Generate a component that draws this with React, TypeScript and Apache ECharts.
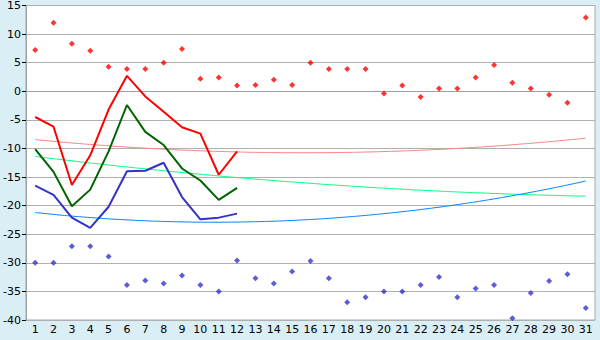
import React, { useEffect, useRef } from "react";
import * as echarts from "echarts";

const days = ["1","2","3","4","5","6","7","8","9","10","11","12","13","14","15","16","17","18","19","20","21","22","23","24","25","26","27","28","29","30","31"];

const maxPoints = [7.2, 12.0, 8.3, 7.1, 4.3, 3.9, 3.9, 5.0, 7.4, 2.2, 2.4, 1.0, 1.1, 2.0, 1.1, 5.0, 3.9, 3.9, 3.9, -0.4, 1.0, -1.0, 0.5, 0.5, 2.4, 4.6, 1.5, 0.5, -0.6, -2.0, 12.9];
const minPoints = [-30.0, -30.0, -27.1, -27.1, -28.9, -33.9, -33.1, -33.6, -32.2, -33.9, -35.0, -29.6, -32.7, -33.6, -31.5, -29.7, -32.7, -36.9, -36.0, -35.0, -35.0, -33.9, -32.5, -36.0, -34.5, -33.9, -39.7, -35.3, -33.2, -32.0, -37.9];

const redLine = [-4.5, -6.2, -16.4, -11.2, -3.2, 2.7, -0.9, -3.6, -6.3, -7.4, -14.6, -10.5];
const greenLine = [-10.1, -14.1, -20.1, -17.2, -10.5, -2.4, -7.1, -9.4, -13.5, -15.6, -19.0, -16.9];
const blueLine = [-16.5, -18.1, -22.1, -23.9, -20.2, -14.0, -13.9, -12.5, -18.5, -22.4, -22.1, -21.4];

const redTrend = [-8.45, -8.76, -9.04, -9.30, -9.54, -9.76, -9.95, -10.13, -10.28, -10.41, -10.52, -10.61, -10.68, -10.72, -10.75, -10.75, -10.73, -10.69, -10.63, -10.54, -10.44, -10.31, -10.16, -9.99, -9.80, -9.59, -9.35, -9.09, -8.82, -8.52, -8.20];
const greenTrend = [-11.40, -11.79, -12.17, -12.54, -12.89, -13.24, -13.57, -13.90, -14.21, -14.51, -14.81, -15.09, -15.36, -15.62, -15.86, -16.10, -16.33, -16.54, -16.75, -16.94, -17.12, -17.30, -17.46, -17.61, -17.75, -17.87, -17.99, -18.10, -18.19, -18.28, -18.35];
const blueTrend = [-21.20, -21.53, -21.83, -22.08, -22.31, -22.49, -22.65, -22.76, -22.84, -22.89, -22.90, -22.87, -22.81, -22.72, -22.59, -22.42, -22.22, -21.98, -21.71, -21.40, -21.06, -20.68, -20.27, -19.82, -19.34, -18.82, -18.26, -17.67, -17.05, -16.39, -15.69];

const FONT = "DejaVu Sans";

export default function App() {
  const ref = useRef<HTMLDivElement>(null);
  useEffect(() => {
    document.body.style.margin = "0";
    const chart = echarts.init(ref.current!, null, { renderer: "svg" });
    const trend = (data: number[], color: string) => ({
      type: "line",
      data,
      smooth: true,
      symbol: "none",
      lineStyle: { color, width: 1 },
      z: 2,
    });
    const thick = (data: number[], color: string) => ({
      type: "line",
      data,
      symbol: "none",
      lineStyle: { color, width: 2 },
      z: 3,
    });
    chart.setOption({
      animation: false,
      backgroundColor: "#d9eef5",
      grid: { left: 26, right: 5, top: 5, bottom: 20, show: true, backgroundColor: "#ffffff", borderColor: "#a8a8a8", borderWidth: 1 },
      xAxis: {
        type: "category",
        data: days,
        boundaryGap: true,
        axisLine: { lineStyle: { color: "#a0a0a0" } },
        axisTick: { alignWithLabel: true, length: 5, lineStyle: { color: "#000000" } },
        axisLabel: { color: "#000000", fontFamily: FONT, fontSize: 11, margin: 4, interval: 0 },
        splitLine: { show: false },
      },
      yAxis: {
        type: "value",
        min: -40,
        max: 15,
        interval: 5,
        axisLine: { show: true, lineStyle: { color: "#a0a0a0" } },
        axisTick: { show: true, length: 4, lineStyle: { color: "#000000" } },
        axisLabel: { color: "#000000", fontFamily: FONT, fontSize: 11, margin: 5 },
        splitLine: { lineStyle: { color: "#b0b0b0", width: 1 } },
      },
      series: [
        trend(redTrend, "#ff8080"),
        trend(greenTrend, "#00ff80"),
        trend(blueTrend, "#0080ff"),
        thick(redLine, "#ff0000"),
        thick(greenLine, "#006400"),
        thick(blueLine, "#3333cc"),
        { type: "scatter", data: maxPoints, symbol: "diamond", symbolSize: 6, itemStyle: { color: "#ff0000" }, z: 4 },
        { type: "scatter", data: minPoints, symbol: "diamond", symbolSize: 6, itemStyle: { color: "#3333cc" }, z: 4 },
      ],
    });
    return () => chart.dispose();
  }, []);
  return <div ref={ref} style={{ width: 600, height: 340 }} />;
}
